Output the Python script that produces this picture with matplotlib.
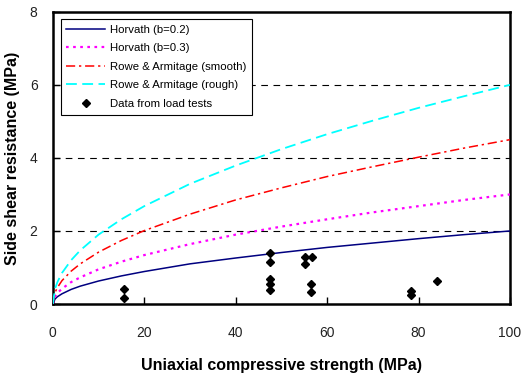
import numpy as np
import matplotlib
matplotlib.use("Agg")
import matplotlib.pyplot as plt

plt.rcParams['font.family'] = ['Liberation Sans', 'DejaVu Sans']

# uniaxial compressive strength (MPa) and curve values
q = [0, 0.5, 1, 2, 4, 6, 10, 15, 20, 30, 40, 50, 60, 70, 80, 90, 100]
horvath02 = [0, 0.14, 0.20, 0.28, 0.40, 0.49, 0.63, 0.77, 0.89, 1.10, 1.26, 1.41, 1.55, 1.67, 1.79, 1.90, 2.00]
horvath03 = [0, 0.21, 0.30, 0.42, 0.60, 0.73, 0.95, 1.16, 1.34, 1.64, 1.90, 2.12, 2.32, 2.51, 2.68, 2.85, 3.00]
rowe_smooth = [0, 0.32, 0.45, 0.64, 0.90, 1.10, 1.42, 1.74, 2.01, 2.46, 2.85, 3.18, 3.49, 3.76, 4.02, 4.27, 4.50]
rowe_rough = [0, 0.42, 0.60, 0.85, 1.20, 1.47, 1.90, 2.32, 2.68, 3.29, 3.79, 4.24, 4.65, 5.02, 5.37, 5.69, 6.00]

# load test data
test_q = [15.6, 15.6, 47.6, 47.6, 47.6, 47.6, 47.6, 55.2, 56.7, 55.2, 56.5, 56.5, 78.3, 78.3, 84.1]
test_fs = [0.41, 0.16, 1.39, 1.14, 0.68, 0.55, 0.38, 1.29, 1.29, 1.09, 0.55, 0.32, 0.36, 0.25, 0.63]

fig = plt.figure(figsize=(5.23, 3.81), dpi=100)
ax = fig.add_axes([0.101, 0.202, 0.874, 0.767])

for yg in [2, 4, 6]:
    ax.axhline(yg, color='black', lw=0.8, ls=(0, (6, 5)), zorder=1)

ax.plot(q, horvath02, color='#000080', lw=1.1, label='Horvath (b=0.2)', zorder=3)
ax.plot(q, horvath03, color='#ff00ff', lw=1.6, ls=(0, (1.2, 2)), label='Horvath (b=0.3)', zorder=3)
ax.plot(q, rowe_smooth, color='#ff0000', lw=1.1, ls=(0, (6, 2.5, 1.5, 2.5)), label='Rowe & Armitage (smooth)', zorder=3)
ax.plot(q, rowe_rough, color='#00ffff', lw=1.3, ls=(0, (6, 3)), label='Rowe & Armitage (rough)', zorder=3)
ax.plot(test_q, test_fs, 'D', color='black', ms=4.5, ls='none', label='Data from load tests', zorder=4)

ax.set_xlim(0, 100)
ax.set_ylim(0, 8)
ax.set_xticks([0, 20, 40, 60, 80, 100])
ax.set_yticks([0, 2, 4, 6, 8])
ax.tick_params(direction='in', length=5, width=1, labelsize=10, labelcolor='#222222')
ax.tick_params(axis='x', pad=16)
ax.tick_params(axis='y', pad=11)
for s in ax.spines.values():
    s.set_linewidth(1.8)

ax.set_xlabel('Uniaxial compressive strength (MPa)', fontsize=11.5, fontweight='bold', labelpad=13)
ax.set_ylabel('Side shear resistance (MPa)', fontsize=11.5, fontweight='bold')
ax.yaxis.set_label_coords(-0.072, 0.5)

leg = ax.legend(loc='upper left', bbox_to_anchor=(0.005, 0.995), fontsize=8.2, frameon=True,
                fancybox=False, edgecolor='black', framealpha=1, borderpad=0.5,
                handlelength=3.4, handletextpad=0.4, labelspacing=0.75)
leg.get_frame().set_linewidth(0.8)
leg.set_zorder(5)

fig.savefig('out.png', dpi=100)
